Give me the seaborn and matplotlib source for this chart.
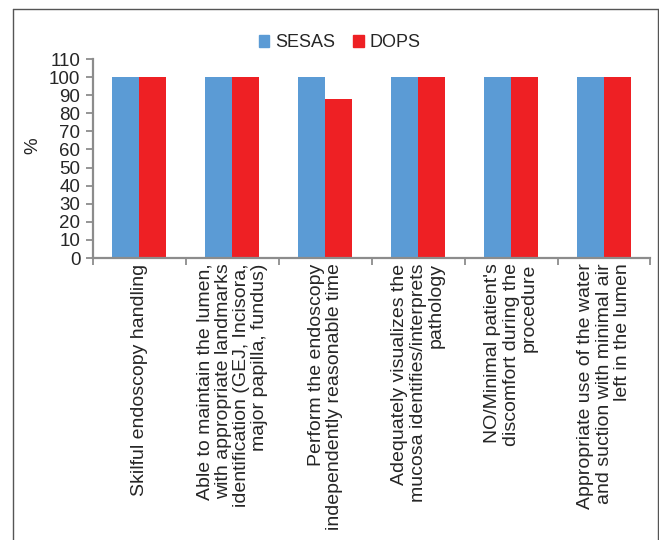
import matplotlib
matplotlib.use("Agg")
import matplotlib.pyplot as plt
import seaborn as sns
import pandas as pd
from matplotlib.lines import Line2D

categories = [
    "Skilful endoscopy handling",
    "Able to maintain the lumen,\nwith appropriate landmarks\nidentification (GEJ, Incisora,\nmajor papilla, fundus)",
    "Perform the endoscopy\nindependently reasonable time",
    "Adequately visualizes the\nmucosa identifies/interprets\npathology",
    "NO/Minimal patient's\ndiscomfort during the\nprocedure",
    "Appropriate use of the water\nand suction with minimal air\nleft in the lumen",
]
sesas = [100, 100, 100, 100, 100, 100]
dops = [100, 100, 88, 100, 100, 100]
groups = ["SESAS", "DOPS"]
yticks = list(range(0, 111, 10))

colors = {"SESAS": "#5B9BD5", "DOPS": "#EE2024"}

df = pd.DataFrame({
    "cat": list(range(len(categories))) * 2,
    "value": sesas + dops,
    "group": ["SESAS"] * len(sesas) + ["DOPS"] * len(dops),
})

sns.set_style("white")
plt.rcParams["font.family"] = ["Liberation Sans", "DejaVu Sans"]

fig = plt.figure(figsize=(6.59, 5.4), dpi=100)
ax = fig.add_axes([0.1411, 0.5222, 0.9871 - 0.1411, 0.8907 - 0.5222])

sns.barplot(data=df, x="cat", y="value", hue="group", hue_order=groups,
            palette=colors, width=0.58, saturation=1, linewidth=0,
            ax=ax, legend=False)

ax.set_ylim(0, 110)
ax.set_xlim(-0.5, len(categories) - 0.5)
ax.set_yticks(yticks)
ax.set_yticklabels([str(v) for v in yticks], fontsize=13.5)
ax.set_ylabel("%", fontsize=13.5)
ax.yaxis.set_label_coords(-0.092, 0.563)
ax.set_xlabel("")

axis_col = "#8c8c8c"
for s in ["top", "right"]:
    ax.spines[s].set_visible(False)
for s in ["left", "bottom"]:
    ax.spines[s].set_color(axis_col)
    ax.spines[s].set_linewidth(1.6)

ax.tick_params(axis="y", direction="out", length=5, width=1.3, color=axis_col, pad=4, left=True)
ax.set_xticks(range(len(categories)))
ax.set_xticklabels([])
ax.tick_params(axis="x", which="major", length=0)
ax.set_xticks([i - 0.5 for i in range(len(categories) + 1)], minor=True)
ax.tick_params(axis="x", which="minor", direction="out", length=5, width=1.3,
               color=axis_col, bottom=True)

for i, lab in enumerate(categories):
    ax.text(i, -3.0, lab, rotation=90, ha="center", va="top",
            multialignment="right", fontsize=14, linespacing=1.1,
            transform=ax.transData)

handles = [plt.Rectangle((0, 0), 1, 1, color=colors[g]) for g in groups]
fig.legend(handles, groups, loc="center", bbox_to_anchor=(0.515, 0.921),
           ncol=2, frameon=False, fontsize=13, handlelength=0.6,
           handleheight=0.6, handletextpad=0.3, columnspacing=1.0)

# outer frame (open at bottom)
fc = "#555555"
fig.add_artist(Line2D([0.0197, 0.0197], [0.0, 0.983], color=fc, lw=1.0, transform=fig.transFigure))
fig.add_artist(Line2D([0.0197, 0.9985], [0.983, 0.983], color=fc, lw=1.0, transform=fig.transFigure))
fig.add_artist(Line2D([0.9985, 0.9985], [0.983, 0.0], color=fc, lw=1.0, transform=fig.transFigure))

fig.savefig("out.png", dpi=100)
